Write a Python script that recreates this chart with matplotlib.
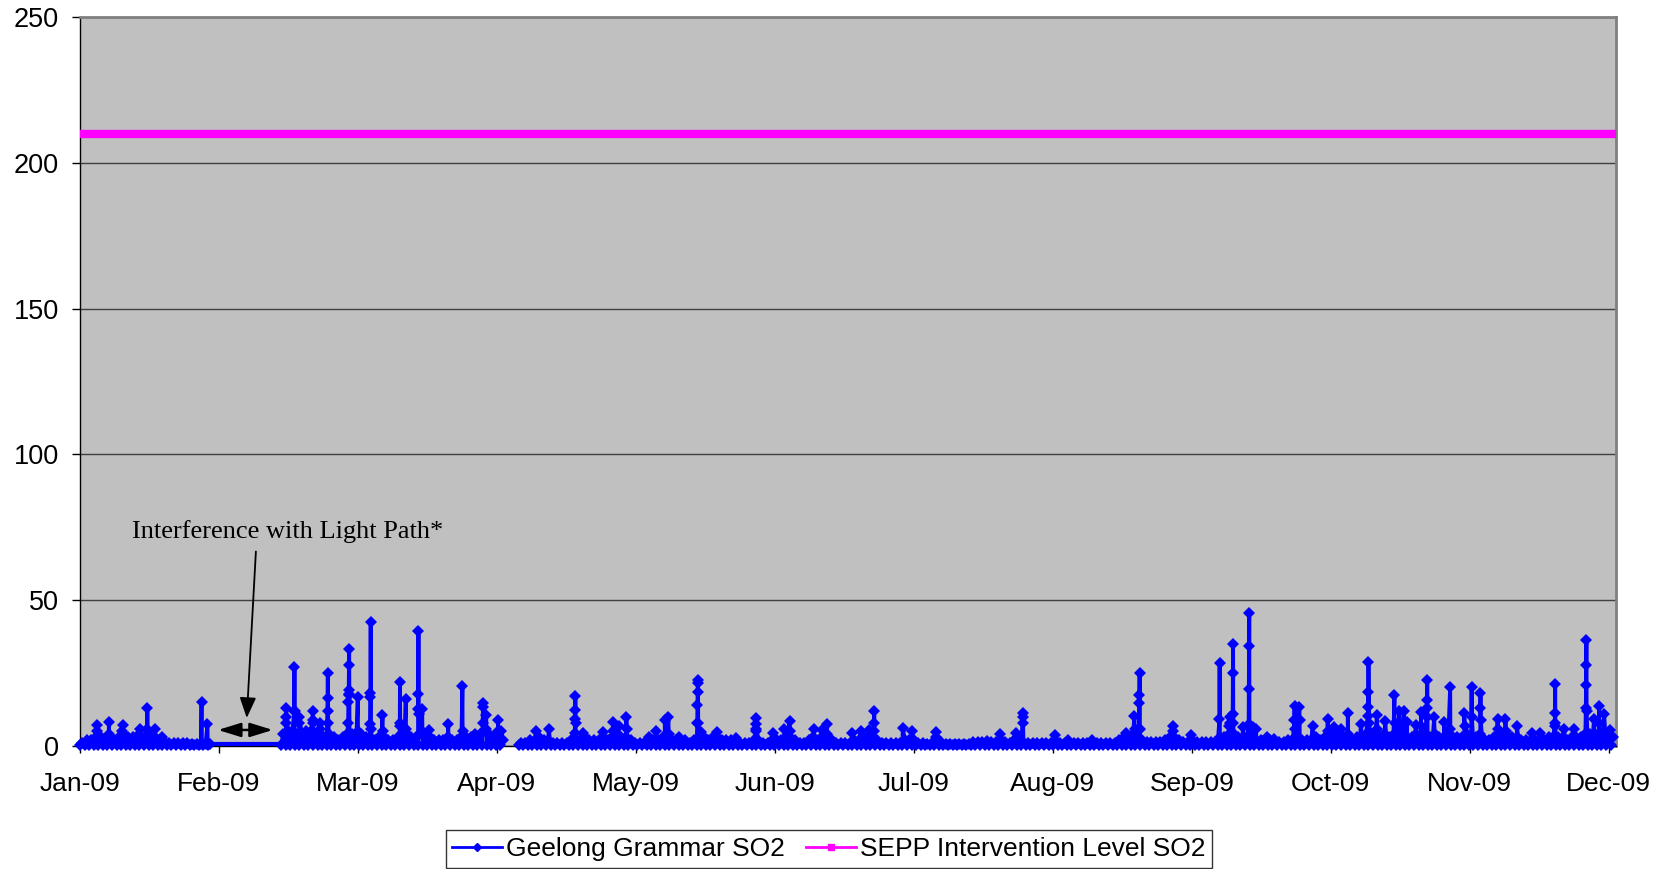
import numpy as np
import matplotlib
matplotlib.use('Agg')
import matplotlib.pyplot as plt
from matplotlib.lines import Line2D

plt.rcParams['font.family'] = ['Liberation Sans', 'DejaVu Sans']

# --- data ---------------------------------------------------------------
MONTHS = ['Jan-09', 'Feb-09', 'Mar-09', 'Apr-09', 'May-09', 'Jun-09',
          'Jul-09', 'Aug-09', 'Sep-09', 'Oct-09', 'Nov-09', 'Dec-09']
DAYS_PER_TICK = 30.42
X_END = 336.2
SEPP_LEVEL = 210

# daily upper background level from 1 Jan (None = no valid data)
base_hi = [
    1, 2, 2, 3, 3, 2, 3, 2, 3, 4, 3, 3, 2, 2, 3, 3, 2, 2, 1.5, 1,
    1, 1, 1, 1, 0.8, 0.8, 0.8, 0.8, 0.8,
    None, None, None, None, None, None, None, None, None, None, None,
    None, None, None, None,
    4, 5, 5, 4, 4, 5, 5, 4, 4, 3, 4, 3, 2, 3, 4, 4, 3, 4, 3, 3,
    2, 3, 3, 2, 2, 3, 3, 4, 3, 3, 4, 3, 3, 2, 2, 2, 3, 2, 2, 3,
    3, 3, 4, 4, 5, 4, 3, 3, 2,
    None, None, None,
    1, 1, 2, 2, 3, 2, 2, 1, 1, 1, 1, 2, 2, 2, 3, 2, 2, 2, 3, 2,
    3, 3, 3, 3, 2, 1, 1, 1, 2, 2, 2, 3, 3, 2, 2, 2, 2, 1, 2, 2,
    3, 2, 3, 3, 2, 2, 2, 2, 1, 1, 1, 2, 2, 1, 1, 2, 2, 2, 3, 3,
    2, 1, 1, 2, 3, 2, 3, 3, 2, 1, 1, 1, 1, 2, 2, 3, 3, 2, 2, 1,
    1, 1, 1, 1, 2, 2, 2, 1, 1, 0.8, 1, 2,
    1.5, 0.8, 0.6, 0.6, 0.6, 0.6, 0.8, 1.5, 1.5, 1.5, 1.8, 1.5, 1.5, 2, 1.5, 1.2,
    2, 2, 1.5, 1, 1, 1, 1, 1, 1.2, 2, 1, 1, 1.5, 1, 1, 1, 1, 1.5, 1, 1,
    1, 1, 1.2, 2, 3, 3, 4, 3, 2, 1.5, 1.5, 1.5, 1.5, 2, 3, 3, 2, 1.5, 1.5, 2,
    1.5, 1.5, 1.5, 1.5, 1.5, 2, 3, 4, 4, 3, 3, 3, 3, 2, 2, 2, 2, 1.5, 1.5, 1.5,
    2, 2.5, 3, 2, 2, 2,
    3, 2, 3, 4, 4, 4, 3, 3, 2, 3, 3, 4, 4, 4, 3, 4, 3, 4, 4, 4,
    3, 3, 4, 4, 4, 3, 4, 3, 3, 3, 3, 3, 3, 4, 3, 3, 4, 2, 2, 3,
    4, 4, 3, 3, 3, 2, 2, 2, 2, 2, 2, 3, 3, 3, 3, 2, 3, 3, 3, 4,
    4, 4, 4, 4, 3, 3,
]
# typical lower background level per month
month_lo = [0.3, 0.3, 0.5, 0.3, 0.3, 0.3, 0.2, 0.3, 0.3, 0.5, 0.5, 0.5]

# light path interference: start day, end day, reading
interf_start, interf_end, interf_level = 28.4, 43.4, 0.8

# short events: start day and consecutive hourly readings
spike_day = [
    3.6, 6.3, 9.3, 13.0, 14.7, 16.4, 17.9, 26.6, 27.9,
    45.1, 46.9, 48.0, 50.9, 52.5, 54.2, 58.7, 60.8, 63.5, 66.2, 70.0,
    71.3, 74.0, 74.9, 76.3, 80.6, 83.7, 88.2, 88.9, 91.5, 92.2,
    99.9, 102.6, 108.3, 110.1, 114.4, 116.7, 117.9, 119.6, 124.5, 126.0,
    128.0, 128.8, 131.1, 135.1, 136.0, 139.4, 143.5, 147.9, 151.6, 154.2,
    155.3, 160.6, 162.4, 163.5, 169.0, 170.9, 172.8, 173.8, 180.1, 182.0,
    187.4,
    201.3, 204.9, 206.3, 213.5, 216.3, 221.4, 229.0, 230.8, 231.8, 239.2,
    243.1, 249.4, 251.6, 252.3, 254.5, 255.8, 256.7, 257.4, 259.9, 261.4,
    265.8, 266.9,
    269.8, 273.1, 274.5, 276.0, 277.5, 280.4, 281.9, 283.9, 285.7, 287.7,
    288.8, 289.8, 290.4, 292.4, 293.5, 294.8, 296.4, 298.6, 299.9, 303.0,
    304.6, 306.5, 310.3, 312.0, 314.5, 317.9, 319.6, 322.8, 324.9, 327.0,
    329.6, 331.4, 332.5, 333.6, 334.8,
]
spike_vals = [
    [3, 7.1, 5], [4, 8.3, 3], [5, 7.1, 4], [4, 6.0, 3], [6, 13.2, 5],
    [3, 6.0, 2], [3.0], [15.2, 1], [7.7, 1],
    [8, 12.9, 10], [11.9, 27.0, 12], [8, 10], [8, 11.9, 9], [6, 8],
    [16.4, 25.0, 12, 8], [8, 15.1, 17.4, 19.2, 27.8, 33.2, 18], [16.7, 5],
    [7.7, 16.9, 18.3, 42.5, 6], [10.6, 5], [7, 21.9, 8],
    [16.1, 6], [12.6, 18, 39.6, 11], [12.6, 5], [5.4], [7.7, 3], [20.7, 5],
    [13.4, 14.6, 8], [10.6, 6], [8.9, 5], [5],
    [5.2], [5.7], [4.3, 9.4, 12.5, 17.1, 8], [4.3], [4.9], [8.3, 5], [6.9],
    [10.0, 6], [3.2], [5.2],
    [8.9], [10.0, 4], [3.2], [8, 14, 18.4, 21.7, 22.7, 8], [4.9], [4.7],
    [2.6], [5, 7.5, 9.7, 6], [4.5], [6],
    [8.6, 5], [5.7], [5.5], [7.7, 4], [4.3], [5.1], [5.5], [8, 12.0, 5],
    [6.3], [5.2],
    [4.9, 3],
    [4.0], [4.6], [8, 11.2, 10], [3.8], [2.0], [2.2], [4.3, 3], [10.3, 6],
    [5.5, 14.9, 17.4, 25.0, 6], [6.7, 5],
    [3.8], [9.1, 28.4, 3], [7, 10, 8], [10.9, 25, 35.0, 8], [6.5],
    [7.7, 19.5, 34.4, 45.6, 7], [6.5], [6], [3.2], [2.5],
    [9, 13.7, 6], [13.4, 9],
    [6.7], [9.1, 5], [6.5], [6], [11.2, 4], [7.4],
    [10.2, 13.4, 18.6, 28.7, 8], [10.6, 6], [8.6], [17.5, 8],
    [12, 7], [12, 8], [8.3], [7.1], [11.7, 7], [13.2, 15.8, 22.7, 10],
    [9.8], [8.3], [20.1, 6], [11.4, 7],
    [20.1, 10], [12.9, 18.3, 9], [9.4, 6], [9.4, 5], [6.9], [4.3], [4.3],
    [8, 11.2, 21.3, 7], [5.7], [5.7],
    [13, 20.9, 27.8, 36.2, 12], [9.4], [13.7, 8], [10.9], [5.5],
]

# --- assemble hourly-ish series -----------------------------------------
pts = []
for d, hi in enumerate(base_hi):
    if hi is None:
        pts.append((d + 0.01, np.nan))
        continue
    lo = month_lo[int(d // DAYS_PER_TICK)]
    pts.append((d, lo))
    pts.append((d + 0.5, hi))
for d0, vals in zip(spike_day, spike_vals):
    for k, v in enumerate(vals):
        pts.append((d0 + k / 24, v))
pts.sort(key=lambda p: p[0])
x = np.array([p[0] for p in pts])
y = np.array([p[1] for p in pts])

# --- figure ---------------------------------------------------------------
fig = plt.figure(figsize=(16.67, 8.69), dpi=100)
ax = fig.add_axes([80 / 1667, 1 - 746 / 869, 1536 / 1667, 729 / 869])
ax.set_facecolor('#C0C0C0')

BLUE = '#0000FF'
MAGENTA = '#FF00FF'

ax.plot(x, y, color=BLUE, lw=2.8, marker='D', markersize=6,
        markeredgewidth=0, zorder=4, clip_on=False)
ax.plot([interf_start, interf_end], [interf_level, interf_level],
        color=BLUE, lw=3, zorder=4, clip_on=False)
ax.plot([0, X_END], [SEPP_LEVEL, SEPP_LEVEL], color=MAGENTA, lw=6,
        solid_capstyle='butt', zorder=4, clip_on=False)

ax.set_xlim(0, X_END)
ax.set_ylim(0, 250)
ax.set_xticks([k * DAYS_PER_TICK for k in range(len(MONTHS))])
ax.set_xticklabels(MONTHS)
ax.set_yticks(range(0, 251, 50))
ax.tick_params(axis='x', length=5, width=1, direction='out', pad=14,
               labelsize=19)
ax.tick_params(axis='y', length=6, width=1, direction='out', pad=9,
               labelsize=19.5)
ax.yaxis.grid(True, color='#404040', lw=1)
ax.set_axisbelow(True)

for s in ('left', 'bottom'):
    ax.spines[s].set_color('black')
    ax.spines[s].set_linewidth(1)
for s in ('top', 'right'):
    ax.spines[s].set_color('#808080')
    ax.spines[s].set_linewidth(2)

# annotation
ax.text(11.4, 71.5, 'Interference with Light Path*', fontsize=19,
        family=['Liberation Serif', 'DejaVu Serif'], va='baseline',
        ha='left', zorder=6)
ax.annotate('', xy=(36.5, 9.6), xytext=(38.5, 66.7),
            arrowprops=dict(arrowstyle='-|>,head_length=0.5,head_width=0.2',
                            color='black', lw=1.3, mutation_scale=25,
                            shrinkA=0, shrinkB=0), zorder=6)
ax.annotate('', xy=(30.2, 5.5), xytext=(42.2, 5.5),
            arrowprops=dict(arrowstyle='<|-|>,head_length=0.55,head_width=0.17',
                            color='black', lw=1.8, mutation_scale=25,
                            shrinkA=0, shrinkB=0), zorder=6)

handles = [
    Line2D([], [], color=BLUE, lw=2, marker='D', markersize=4),
    Line2D([], [], color=MAGENTA, lw=2, marker='s', markersize=4),
]
leg = fig.legend(handles, ['Geelong Grammar SO2', 'SEPP Intervention Level SO2'],
                 loc='center', bbox_to_anchor=(829 / 1667, 1 - 849 / 869),
                 ncol=2, fontsize=19, frameon=True, fancybox=False,
                 edgecolor='black', handlelength=1.9, handletextpad=0.15,
                 columnspacing=0.8, borderpad=0.25, borderaxespad=0)
leg.get_frame().set_linewidth(1)

fig.savefig('out.png', dpi=100)
